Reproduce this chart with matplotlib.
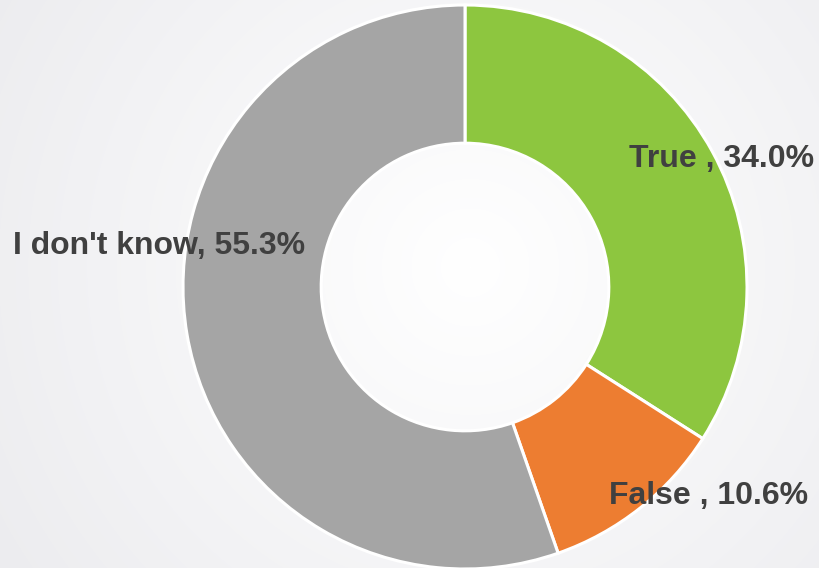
import matplotlib.pyplot as plt
import numpy as np

# data
labels = ["True ", "False ", "I don't know"]
shares = [34.0, 10.6, 55.3]
colors = ["#8DC63F", "#ED7D31", "#A5A5A5"]

W, H = 819, 568
fig = plt.figure(figsize=(W / 100, H / 100), dpi=100)
ax = fig.add_axes([0, 0, 1, 1])
ax.set_xlim(0, W)
ax.set_ylim(0, H)
ax.set_aspect("equal")
ax.axis("off")

# soft radial background
yy, xx = np.mgrid[0:H, 0:W]
d = np.sqrt((xx - 470) ** 2 + (yy - 300) ** 2) / 560
d = np.clip(d, 0, 1)
c0 = np.array([1.0, 1.0, 1.0])
c1 = np.array([236, 236, 239]) / 255
img = c0[None, None, :] * (1 - d[..., None]) + c1[None, None, :] * d[..., None]
ax.imshow(img, extent=[0, W, 0, H], origin="lower", zorder=0)

cx, cy, r = 465, 281, 282
wedges, _ = ax.pie(shares, colors=colors, startangle=90, counterclock=False,
                   center=(cx, cy), radius=r, frame=True,
                   wedgeprops=dict(width=r * 0.49, edgecolor="white", linewidth=2.2))
for w in wedges:
    w.set_zorder(2)
ax.set_xlim(0, W)
ax.set_ylim(0, H)
ax.axis("off")

# data labels
pos = [(722, H - 159), (709, H - 496), (159, H - 246)]
for lab, val, (x, y) in zip(labels, shares, pos):
    ax.text(x, y, f"{lab}, {val:.1f}%", ha="center", va="center",
            fontsize=23, fontweight="bold", color="#404040",
            family=["Liberation Sans", "DejaVu Sans"], zorder=3)

fig.savefig("out.png", dpi=100)
